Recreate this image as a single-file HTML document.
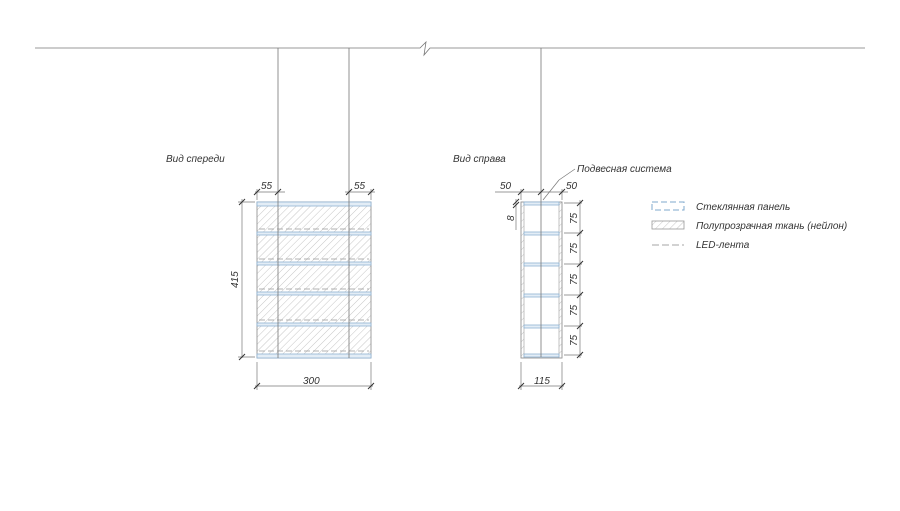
<!DOCTYPE html>
<html><head><meta charset="utf-8"><style>
html,body{margin:0;padding:0;background:#fff;}
svg text{font-family:"Liberation Sans",sans-serif;font-style:italic;fill:#333;}
</style></head><body>
<svg width="900" height="506" viewBox="0 0 900 506" xmlns="http://www.w3.org/2000/svg">
<defs>
<pattern id="h" width="5" height="5" patternUnits="userSpaceOnUse" patternTransform="rotate(45)">
<line x1="0" y1="0" x2="0" y2="5" stroke="#b8b8b8" stroke-width="0.8"/>
</pattern>
</defs>
<g stroke="#777" stroke-width="0.8" fill="none">
<polyline points="35,48 420,48 426,42 424,55 430,48 865,48"/>
</g>
<!-- front view -->
<rect x="257" y="202" width="114" height="156" fill="url(#h)" stroke="#888" stroke-width="0.8"/>
<g stroke="#8fb2d2" stroke-width="0.8">
<rect x="257" y="202" width="114" height="4" fill="#e3edf6"/>
<rect x="257" y="232" width="114" height="3" fill="#e3edf6"/>
<rect x="257" y="262" width="114" height="3" fill="#e3edf6"/>
<rect x="257" y="292" width="114" height="3" fill="#e3edf6"/>
<rect x="257" y="323" width="114" height="3" fill="#e3edf6"/>
<rect x="257" y="354" width="114" height="4" fill="#e3edf6"/>
</g>
<g stroke="#999" stroke-width="0.8" stroke-dasharray="6,3">
<line x1="259" y1="229" x2="369" y2="229"/><line x1="259" y1="259" x2="369" y2="259"/>
<line x1="259" y1="289" x2="369" y2="289"/><line x1="259" y1="320" x2="369" y2="320"/>
<line x1="259" y1="351" x2="369" y2="351"/>
</g>
<g stroke="#777" stroke-width="0.8">
<line x1="278" y1="48" x2="278" y2="358"/><line x1="349" y1="48" x2="349" y2="358"/>
</g>
<g stroke="#777" stroke-width="0.7">
<line x1="255" y1="192" x2="285" y2="192"/><line x1="345" y1="192" x2="375" y2="192"/>
<line x1="257" y1="189" x2="257" y2="200"/><line x1="371" y1="189" x2="371" y2="200"/>
<line x1="242" y1="199" x2="242" y2="358"/><line x1="238" y1="202" x2="255" y2="202"/><line x1="238" y1="357" x2="255" y2="357"/>
<line x1="257" y1="362" x2="257" y2="390"/><line x1="371" y1="362" x2="371" y2="390"/>
<line x1="255" y1="386" x2="373" y2="386"/>
</g>
<g stroke="#333" stroke-width="1">
<line x1="254" y1="195" x2="260" y2="189"/><line x1="275" y1="195" x2="281" y2="189"/>
<line x1="346" y1="195" x2="352" y2="189"/><line x1="368" y1="195" x2="374" y2="189"/>
<line x1="239" y1="205" x2="245" y2="199"/><line x1="239" y1="360" x2="245" y2="354"/>
<line x1="254" y1="389" x2="260" y2="383"/><line x1="368" y1="389" x2="374" y2="383"/>
</g>
<text x="261" y="189" font-size="10">55</text>
<text x="354" y="189" font-size="10">55</text>
<text x="303" y="384" font-size="10">300</text>
<text transform="translate(238,288) rotate(-90)" font-size="10">415</text>
<text x="166" y="162" font-size="10">Вид спереди</text>
<!-- side view -->
<rect x="521" y="202" width="41" height="156" fill="#fff" stroke="#888" stroke-width="0.8"/>
<rect x="521" y="202" width="3" height="156" fill="url(#h)" stroke="#999" stroke-width="0.6"/>
<rect x="559" y="202" width="3" height="156" fill="url(#h)" stroke="#999" stroke-width="0.6"/>
<g stroke="#8fb2d2" stroke-width="0.8" fill="#e3edf6">
<rect x="524" y="202" width="35" height="3"/><rect x="524" y="232" width="35" height="3"/>
<rect x="524" y="263" width="35" height="3"/><rect x="524" y="294" width="35" height="3"/>
<rect x="524" y="325" width="35" height="3"/><rect x="524" y="354" width="35" height="3"/>
</g>
<line x1="541" y1="48" x2="541" y2="357" stroke="#777" stroke-width="0.8"/>
<g stroke="#777" stroke-width="0.7">
<line x1="495" y1="192" x2="568" y2="192"/>
<line x1="521" y1="189" x2="521" y2="200"/><line x1="562" y1="189" x2="562" y2="200"/>
<line x1="516" y1="199" x2="516" y2="230"/>
<line x1="564" y1="203" x2="582" y2="203"/><line x1="564" y1="233" x2="582" y2="233"/>
<line x1="564" y1="264" x2="582" y2="264"/><line x1="564" y1="295" x2="582" y2="295"/>
<line x1="564" y1="326" x2="582" y2="326"/><line x1="564" y1="355" x2="582" y2="355"/>
<line x1="580" y1="200" x2="580" y2="358"/>
<line x1="521" y1="362" x2="521" y2="390"/><line x1="562" y1="362" x2="562" y2="390"/>
<line x1="519" y1="386" x2="564" y2="386"/>
<line x1="543" y1="200" x2="559" y2="180"/><line x1="559" y1="180" x2="575" y2="169"/>
</g>
<g stroke="#333" stroke-width="1">
<line x1="518" y1="195" x2="524" y2="189"/><line x1="538" y1="195" x2="544" y2="189"/><line x1="559" y1="195" x2="565" y2="189"/>
<line x1="513" y1="205" x2="519" y2="199"/><line x1="513" y1="208" x2="519" y2="202"/>
<line x1="577" y1="206" x2="583" y2="200"/><line x1="577" y1="236" x2="583" y2="230"/>
<line x1="577" y1="267" x2="583" y2="261"/><line x1="577" y1="298" x2="583" y2="292"/>
<line x1="577" y1="329" x2="583" y2="323"/><line x1="577" y1="358" x2="583" y2="352"/>
<line x1="518" y1="389" x2="524" y2="383"/><line x1="559" y1="389" x2="565" y2="383"/>
</g>
<text x="500" y="189" font-size="10">50</text>
<text x="566" y="189" font-size="10">50</text>
<text x="534" y="384" font-size="10">115</text>
<text transform="translate(514,221) rotate(-90)" font-size="10">8</text>
<g font-size="10">
<text transform="translate(577,224) rotate(-90)">75</text>
<text transform="translate(577,254) rotate(-90)">75</text>
<text transform="translate(577,285) rotate(-90)">75</text>
<text transform="translate(577,316) rotate(-90)">75</text>
<text transform="translate(577,346) rotate(-90)">75</text>
</g>
<text x="453" y="162" font-size="10">Вид справа</text>
<text x="577" y="172" font-size="10">Подвесная система</text>
<!-- legend -->
<rect x="652" y="202" width="32" height="8" fill="none" stroke="#7fa8cc" stroke-width="1" stroke-dasharray="6,3"/>
<rect x="652" y="221" width="32" height="8" fill="url(#h)" stroke="#999" stroke-width="0.8"/>
<line x1="652" y1="245" x2="684" y2="245" stroke="#888" stroke-width="0.8" stroke-dasharray="7,3"/>
<text x="696" y="210" font-size="10">Стеклянная панель</text>
<text x="696" y="229" font-size="10">Полупрозрачная ткань (нейлон)</text>
<text x="696" y="248" font-size="10">LED-лента</text>
</svg>
</body></html>
